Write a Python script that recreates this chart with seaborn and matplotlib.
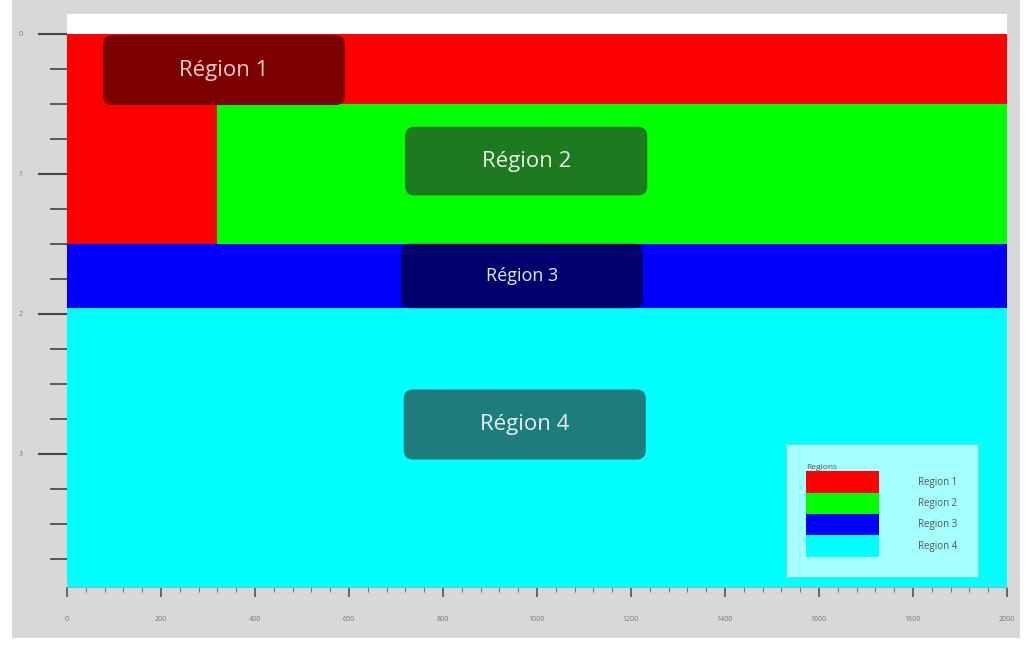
import numpy as np
import matplotlib.pyplot as plt
import seaborn as sns
from matplotlib.patches import FancyBboxPatch, Patch, Rectangle

region_names = ["Région 1", "Région 2", "Région 3", "Région 4"]
legend_labels = ["Region 1", "Region 2", "Region 3", "Region 4"]
region_colors = ["#ff0000", "#00ff00", "#0000ff", "#00ffff"]
box_colors = ["#7c0000", "#1e7a1e", "#00006c", "#1e7c7c"]
text_colors = ["#f2cccc", "#e6f2e6", "#e6e6f2", "#e6f2f2"]

# blocks making up each region: region index, x range, depth range
block_region = [0, 0, 1, 2, 3]
block_x0 = [0, 0, 320, 0, 0]
block_x1 = [2000, 320, 2000, 2000, 2000]
block_top = [0.0, 0.5, 0.5, 1.5, 1.96]
block_bottom = [0.5, 1.5, 1.5, 1.96, 3.95]

# label boxes
label_x = [334, 977, 968, 974]
label_y = [0.26, 0.91, 1.73, 2.79]
label_h = [0.5, 0.49, 0.46, 0.5]
label_size = [16, 16, 13, 16]
label_w = 515

sns.set_style("ticks")
plt.rcParams["font.family"] = ["Open Sans", "DejaVu Sans"]

fig = plt.figure(figsize=(10.28, 6.48), dpi=100, facecolor="white")
fig.patches.append(Rectangle((0.012, 0.016), 0.98, 0.984, transform=fig.transFigure,
                             facecolor="#d8d8d8", edgecolor="none", zorder=-5))
ax = fig.add_axes([67 / 1028, 1 - 587 / 648, 940 / 1028, 573 / 648])
ax.set_facecolor("white")

for r, x0, x1, t, b in zip(block_region, block_x0, block_x1, block_top, block_bottom):
    ax.barh(y=t, width=x1 - x0, height=b - t, left=x0, align="edge",
            color=region_colors[r], linewidth=0)

aspect = (1 / 140) / (2000 / 940)
for i, name in enumerate(region_names):
    box = FancyBboxPatch((label_x[i] - label_w / 2, label_y[i] - label_h[i] / 2),
                         label_w, label_h[i], boxstyle="round,pad=0,rounding_size=20",
                         mutation_aspect=aspect, facecolor=box_colors[i],
                         edgecolor="none", zorder=3)
    ax.add_patch(box)
    ax.text(label_x[i], label_y[i], name, ha="center", va="center",
            fontsize=label_size[i], color=text_colors[i], zorder=4)

ax.set_xlim(0, 2000)
ax.set_ylim(3.95, -0.14)
ax.set_xticks(np.arange(0, 2001, 200))
ax.set_xticks(np.arange(0, 2001, 40), minor=True)
ax.set_yticks([0, 1, 2, 3])
ax.set_yticks(np.arange(0, 3.95, 0.25), minor=True)
ax.tick_params(axis="y", which="major", length=21, width=1.5, color="#444444",
               labelsize=5, labelcolor="#777777", pad=11)
ax.tick_params(axis="y", which="minor", length=12, width=1.2, color="#444444")
ax.tick_params(axis="x", which="major", length=7, width=1.2, color="#555555",
               labelsize=5, labelcolor="#777777", pad=14)
ax.tick_params(axis="x", which="minor", length=3.5, width=0.8, color="#777777")
for s in ["top", "right", "left"]:
    ax.spines[s].set_visible(False)
ax.spines["bottom"].set_color("#9ab0c0")
ax.spines["bottom"].set_linewidth(0.8)

handles = [Patch(facecolor=c, edgecolor="none") for c in region_colors]
leg = ax.legend(handles, legend_labels, title="Regions", loc="lower right",
                bbox_to_anchor=(0.969, 0.0175), borderaxespad=0, fontsize=7,
                title_fontsize=6, handlelength=7.5, handleheight=3.0,
                labelspacing=0, handletextpad=4, borderpad=2.1,
                facecolor="#a6ffff", edgecolor="#60dede", framealpha=1,
                fancybox=False, alignment="left")
for t in leg.get_texts():
    t.set_color("#555555")
leg.get_title().set_color("#555555")

fig.savefig("out.png", dpi=100, facecolor=fig.get_facecolor())
